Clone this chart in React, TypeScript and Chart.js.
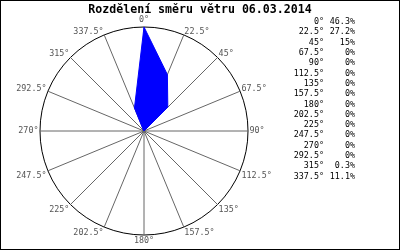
import React, { useEffect, useRef } from "react";
import { Chart, registerables } from "chart.js";

Chart.register(...registerables);

const TITLE = "Rozdělení směru větru 06.03.2014";
const DIRECTIONS = [
  "0°", "22.5°", "45°", "67.5°", "90°", "112.5°", "135°", "157.5°",
  "180°", "202.5°", "225°", "247.5°", "270°", "292.5°", "315°", "337.5°",
];
const SHARES = [46.3, 27.2, 15, 0, 0, 0, 0, 0, 0, 0, 0, 0, 0, 0, 0.3, 11.1];
const SCALE_MAX = 46.3;

const MONO = '"DejaVu Sans Mono", "Liberation Mono", monospace';

export default function App() {
  const ref = useRef<HTMLCanvasElement | null>(null);

  useEffect(() => {
    document.body.style.margin = "0";
    const canvas = ref.current;
    if (!canvas) return;

    const overlay = {
      id: "overlay",
      afterDraw(chart: any) {
        const ctx = chart.ctx as CanvasRenderingContext2D;
        const scale = chart.scales.r;
        ctx.save();

        // border
        ctx.strokeStyle = "#000";
        ctx.lineWidth = 1;
        ctx.strokeRect(0.5, 0.5, chart.width - 1, chart.height - 1);

        // title
        ctx.fillStyle = "#000";
        ctx.font = `bold 11.6px ${MONO}`;
        ctx.textAlign = "center";
        ctx.textBaseline = "alphabetic";
        ctx.fillText(TITLE, chart.width / 2, 13);

        // point labels
        ctx.font = `8.4px ${MONO}`;
        ctx.fillStyle = "#555";
        DIRECTIONS.forEach((lab, i) => {
          const a = scale.getIndexAngle(i);
          const deg = Math.round((a * 180) / Math.PI) % 360;
          const extra = i === 0 ? 4 : 0;
          const p = scale.getPointPosition(i, scale.drawingArea + 1.5 + extra);
          let align: CanvasTextAlign = "center";
          if (deg === 0 || deg === 180) align = "center";
          else if (deg < 180) align = "left";
          else align = "right";
          let base: CanvasTextBaseline = "alphabetic";
          let y = p.y;
          if (deg === 90 || deg === 270) {
            base = "middle";
          } else if (deg < 90 || deg > 270) {
            base = "alphabetic";
          } else {
            base = "top";
            y = p.y + 0.5;
          }
          ctx.textAlign = align;
          ctx.textBaseline = base;
          ctx.fillText(lab, p.x, y);
        });

        // legend list
        ctx.fillStyle = "#000";
        ctx.textBaseline = "middle";
        DIRECTIONS.forEach((lab, i) => {
          const y = 22 + 10.3 * i;
          ctx.textAlign = "right";
          ctx.fillText(lab, 324, y);
          ctx.fillText(`${SHARES[i]}%`, 355, y);
        });

        ctx.restore();
      },
    };

    const chart = new Chart(canvas, {
      type: "radar",
      data: {
        labels: DIRECTIONS,
        datasets: [
          {
            data: SHARES,
            backgroundColor: "#0000ff",
            borderColor: "#0000ff",
            borderWidth: 1,
            pointRadius: 0,
            pointHoverRadius: 0,
            fill: true,
            tension: 0,
          },
        ],
      },
      options: {
        responsive: false,
        animation: false,
        devicePixelRatio: 1,
        layout: { padding: { left: 40, right: 152, top: 27, bottom: 15 } },
        plugins: {
          legend: { display: false },
          title: { display: false },
          tooltip: { enabled: false },
        },
        scales: {
          r: {
            min: 0,
            max: SCALE_MAX,
            beginAtZero: true,
            ticks: { display: false, stepSize: SCALE_MAX },
            pointLabels: { display: false },
            angleLines: { display: true, color: "#666", lineWidth: 1 },
            grid: {
              circular: true,
              lineWidth: 1,
              color: (c: any) =>
                c.tick && c.tick.value >= SCALE_MAX - 1e-6 ? "#000" : "rgba(0,0,0,0)",
            },
          },
        },
      },
      plugins: [overlay],
    });

    return () => chart.destroy();
  }, []);

  return (
    <canvas
      ref={ref}
      width={400}
      height={250}
      style={{ display: "block", width: 400, height: 250 }}
    />
  );
}
